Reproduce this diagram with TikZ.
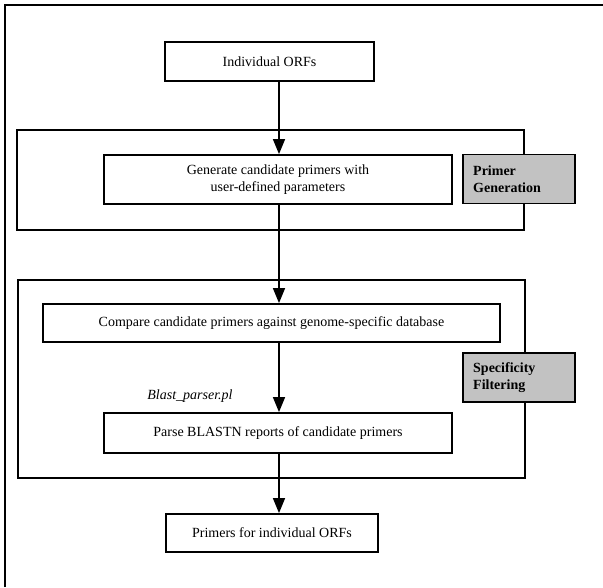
\documentclass[tikz,border=0pt]{standalone}
\usepackage{fontspec}
\setmainfont{Liberation Serif}
\usetikzlibrary{arrows.meta}
\begin{document}
\begin{tikzpicture}[x=1pt,y=-1pt,
  every node/.style={font=\fontsize{14}{16.5}\selectfont},
  procbox/.style={draw,line width=1.8pt,inner sep=0pt,align=center},
  groupbox/.style={draw,line width=1.5pt},
  labelbox/.style={draw,line width=1.8pt,fill=black!24,inner sep=0pt,
     minimum width=112pt,minimum height=49pt},
  labeltext/.style={font=\fontsize{14}{17}\selectfont\bfseries,align=left,anchor=west,inner sep=0pt},
  flow/.style={line width=1.6pt,-{Triangle[length=15pt,width=12pt]}}]
\useasboundingbox (0,0) rectangle (603,587);
% outer frame (left and top edges)
\coordinate (fbl) at (5,587);
\coordinate (ftl) at (5,5);
\coordinate (ftr) at (603,5);
\draw[line width=1.5pt] (fbl) -- (ftl) -- (ftr);
% column of the arrows
\coordinate (ax) at (279,0);
% groups
\draw[groupbox] (17,130) rectangle (524,230);
\draw[groupbox] (18,280) rectangle (525,478);
% label boxes
\node[labelbox] (pg) at (519,179) {};
\node[labeltext] (pgt) at (473,179) {Primer\\Generation};
\node[labelbox] (sf) at (519,377.5) {};
\node[labeltext] (sft) at (473,377.5) {Specificity\\Filtering};
% process boxes
\node[procbox,minimum width=209pt,minimum height=39pt] (orf) at (269.5,61.5) {Individual ORFs};
\node[procbox,minimum width=348pt,minimum height=49pt] (gen) at (278,179.5) {Generate candidate primers with\\user-defined parameters};
\node[procbox,minimum width=457pt,minimum height=38pt] (cmp) at (271.5,323) {Compare candidate primers against genome-specific database};
\node[procbox,minimum width=348pt,minimum height=40pt] (prs) at (278,433) {Parse BLASTN reports of candidate primers};
\node[procbox,minimum width=212pt,minimum height=38pt] (out) at (272,533) {Primers for individual ORFs};
\node[font=\fontsize{14}{16.5}\selectfont\itshape] (bp) at (190,396) {Blast\_parser.pl};
% connectors
\draw[flow] (orf.south -| ax) -- (gen.north -| ax);
\draw[flow] (gen.south -| ax) -- (cmp.north -| ax);
\draw[flow] (cmp.south -| ax) -- (prs.north -| ax);
\draw[flow] (prs.south -| ax) -- (out.north -| ax);
\end{tikzpicture}
\end{document}
